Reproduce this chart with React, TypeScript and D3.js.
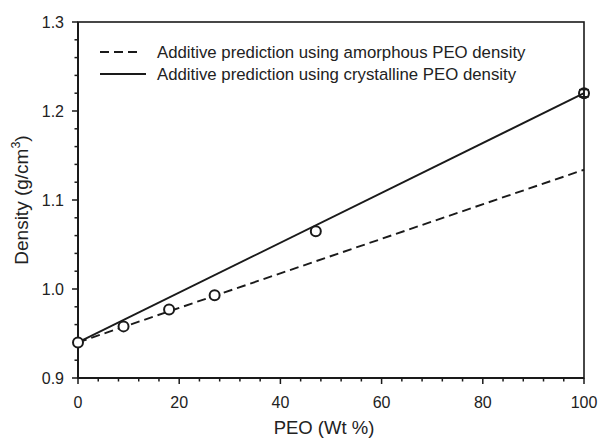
import React from "react";
import * as d3 from "d3";

const peoWt = [0, 9, 18, 27, 47, 100];
const density = [0.940, 0.958, 0.977, 0.993, 1.065, 1.220];
const errHalf = [0, 0, 0, 0, 0, 0.004];
const amorphousLine = [{ x: 0, y: 0.940 }, { x: 100, y: 1.134 }];
const crystallineLine = [{ x: 0, y: 0.940 }, { x: 100, y: 1.220 }];
const xMajorTicks = [0, 20, 40, 60, 80, 100];
const yMajorTicks = [0.9, 1.0, 1.1, 1.2, 1.3];
const legendLabels = [
  "Additive prediction using amorphous PEO density",
  "Additive prediction using crystalline PEO density",
];

const W = 601, H = 444;
const L = 78, R = 584, T = 22, B = 378;
const FONT = "'Liberation Sans', Arial, Helvetica, sans-serif";

export default function App() {
  const x = d3.scaleLinear().domain([0, 100]).range([L, R]);
  const y = d3.scaleLinear().domain([0.9, 1.3]).range([B, T]);
  const line = d3.line<{ x: number; y: number }>().x(d => x(d.x)).y(d => y(d.y));
  const xMinor = d3.range(0, 100.001, 4).filter(v => Math.abs(v % 20) > 1e-6 && Math.abs((v % 20) - 20) > 1e-6);
  const yMinor = d3.range(0, 21).map(i => 0.9 + i * 0.02).filter((v, i) => i % 5 !== 0);

  return (
    <svg width={W} height={H} style={{ position: "absolute", left: 0, top: 0, background: "#fff" }}>
      <rect x={0} y={0} width={W} height={H} fill="#fff" />
      {/* data lines */}
      <path d={line(amorphousLine) || ""} fill="none" stroke="#1a1a1a" strokeWidth={1.9} strokeDasharray="9,5" />
      <path d={line(crystallineLine) || ""} fill="none" stroke="#1a1a1a" strokeWidth={1.9} />
      {/* frame */}
      <rect x={L} y={T} width={R - L} height={B - T} fill="none" stroke="#1a1a1a" strokeWidth={1.6} />
      <line x1={L} x2={L} y1={T} y2={B} stroke="#1a1a1a" strokeWidth={2} />
      <line x1={L} x2={R} y1={B} y2={B} stroke="#1a1a1a" strokeWidth={2} />
      {/* x ticks */}
      {xMajorTicks.map(v => (
        <g key={"xt" + v}>
          <line x1={x(v)} x2={x(v)} y1={B} y2={B + 6} stroke="#1a1a1a" strokeWidth={1.5} />
          <text x={x(v)} y={B + 30} textAnchor="middle" fontFamily={FONT} fontSize={16} fill="#222">{v}</text>
        </g>
      ))}
      {xMinor.map(v => (
        <line key={"xm" + v} x1={x(v)} x2={x(v)} y1={B} y2={B + 3.5} stroke="#1a1a1a" strokeWidth={1.5} />
      ))}
      {/* y ticks */}
      {yMajorTicks.map(v => (
        <g key={"yt" + v}>
          <line x1={L - 6} x2={L} y1={y(v)} y2={y(v)} stroke="#1a1a1a" strokeWidth={1.5} />
          <text x={L - 14} y={y(v) + 6} textAnchor="end" fontFamily={FONT} fontSize={16} fill="#222">{v.toFixed(1)}</text>
        </g>
      ))}
      {yMinor.map(v => (
        <line key={"ym" + v} x1={L - 3.5} x2={L} y1={y(v)} y2={y(v)} stroke="#1a1a1a" strokeWidth={1.5} />
      ))}
      {/* error bars + points */}
      {peoWt.map((v, i) => (
        <g key={"p" + i}>
          {errHalf[i] > 0 && (
            <g stroke="#1a1a1a" strokeWidth={1.5}>
              <line x1={x(v)} x2={x(v)} y1={y(density[i] - errHalf[i])} y2={y(density[i] + errHalf[i])} />
              <line x1={x(v) - 5} x2={x(v) + 5} y1={y(density[i] - errHalf[i])} y2={y(density[i] - errHalf[i])} />
              <line x1={x(v) - 5} x2={x(v) + 5} y1={y(density[i] + errHalf[i])} y2={y(density[i] + errHalf[i])} />
            </g>
          )}
          <circle cx={x(v)} cy={y(density[i])} r={5} fill="#fff" fillOpacity={errHalf[i] > 0 ? 0 : 1} stroke="#1a1a1a" strokeWidth={2} />
        </g>
      ))}
      {/* legend */}
      <line x1={100} x2={142} y1={52} y2={52} stroke="#1a1a1a" strokeWidth={1.8} strokeDasharray="9,5" />
      <line x1={100} x2={146} y1={74} y2={74} stroke="#1a1a1a" strokeWidth={1.8} />
      <text x={157} y={58} fontFamily={FONT} fontSize={16.8} fill="#222">{legendLabels[0]}</text>
      <text x={157} y={80} fontFamily={FONT} fontSize={16.8} fill="#222">{legendLabels[1]}</text>
      {/* axis titles */}
      <text x={324} y={434} textAnchor="middle" fontFamily={FONT} fontSize={18.5} fill="#222">PEO (Wt %)</text>
      <text transform={`translate(28,${(T + B) / 2}) rotate(-90)`} textAnchor="middle" fontFamily={FONT} fontSize={19} fill="#222">
        Density (g/cm<tspan dy={-8} fontSize={12.5}>3</tspan><tspan dy={8}>)</tspan>
      </text>
    </svg>
  );
}
